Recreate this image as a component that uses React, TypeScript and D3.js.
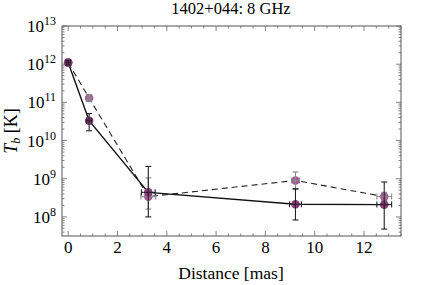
import React, { useRef, useEffect } from "react"
import * as d3 from "d3"

const W = 436
const H = 285

const title = "1402+044: 8 GHz"
const distances = [0, 0.85, 3.25, 9.22, 12.82]
const distErr = [0.08, 0.1, 0.28, 0.24, 0.3]

// solid series (black line)
const tbSolid = [1.1e12, 3.3e10, 4.4e8, 2.15e8, 2.1e8]
const tbSolidLo = [0.95e12, 1.8e10, 1.0e8, 8.3e7, 4.8e7]
const tbSolidHi = [1.25e12, 5.1e10, 2.1e9, 5.5e8, 8.2e8]

// dashed series
const tbDashed = [1.1e12, 1.3e11, 3.4e8, 9.0e8, 3.4e8]
const tbDashedLo = [1.0e12, 1.05e11, 1.6e8, 5.2e8, 2.7e8]
const tbDashedHi = [1.2e12, 1.6e11, 1.05e9, 1.5e9, 4.4e8]
const distErrDashed = [0.06, 0.08, 0.3, 0.16, 0.3]

const xTicks = [0, 2, 4, 6, 8, 10, 12]
const yDecades = [8, 9, 10, 11, 12, 13]

const App: React.FunctionComponent = () => {
	const svgRef = useRef<any>()

	useEffect(() => {
		document.body.style.margin = "0"
		const svg = d3.select(svgRef.current)
		svg.selectAll("*").remove()

		const left = 62, right = 401, top = 26, bottom = 236
		const x = d3.scaleLinear().domain([-0.25, 13.5]).range([left, right])
		const y = d3.scaleLog().domain([Math.pow(10, 7.5), 1e13]).range([bottom, top])
		const font = "'Liberation Serif', 'DejaVu Serif', serif"

		// frame
		svg.append("rect")
			.attr("x", left).attr("y", top)
			.attr("width", right - left).attr("height", bottom - top)
			.attr("fill", "none").attr("stroke", "#555").attr("stroke-width", 1)

		const tickG = svg.append("g").attr("stroke", "#666").attr("stroke-width", 0.8)
		// x ticks
		d3.range(0, 13.51, 0.5).forEach((v) => {
			const major = xTicks.includes(v)
			const len = major ? 5 : 2.5
			tickG.append("line").attr("x1", x(v)).attr("x2", x(v)).attr("y1", bottom).attr("y2", bottom - len)
			tickG.append("line").attr("x1", x(v)).attr("x2", x(v)).attr("y1", top).attr("y2", top + len)
		})
		// y ticks
		const yMinor: number[] = []
		for (let d = 7; d < 13; d++) {
			for (let k = 2; k <= 9; k++) {
				const v = k * Math.pow(10, d)
				if (v >= Math.pow(10, 7.5)) yMinor.push(v)
			}
		}
		yMinor.forEach((v) => {
			tickG.append("line").attr("x1", left).attr("x2", left + 2.5).attr("y1", y(v)).attr("y2", y(v))
			tickG.append("line").attr("x1", right).attr("x2", right - 2.5).attr("y1", y(v)).attr("y2", y(v))
		})
		yDecades.forEach((d) => {
			const v = Math.pow(10, d)
			tickG.append("line").attr("x1", left).attr("x2", left + 5).attr("y1", y(v)).attr("y2", y(v))
			tickG.append("line").attr("x1", right).attr("x2", right - 5).attr("y1", y(v)).attr("y2", y(v))
		})

		// tick labels
		xTicks.forEach((v) => {
			svg.append("text").attr("x", x(v)).attr("y", 253)
				.attr("text-anchor", "middle").attr("font-family", font).attr("font-size", 17)
				.text(String(v))
		})
		yDecades.forEach((d) => {
			const t = svg.append("text").attr("x", 56).attr("y", y(Math.pow(10, d)) + 6)
				.attr("text-anchor", "end").attr("font-family", font).attr("font-size", 17)
			t.append("tspan").text("10")
			t.append("tspan").attr("dy", -7).attr("font-size", 12).text(String(d))
		})

		// titles
		svg.append("text").attr("x", 231).attr("y", 14)
			.attr("text-anchor", "middle").attr("font-family", font).attr("font-size", 16.5)
			.text(title)
		svg.append("text").attr("x", 231).attr("y", 279)
			.attr("text-anchor", "middle").attr("font-family", font).attr("font-size", 17.5)
			.text("Distance [mas]")
		const yl = svg.append("text")
			.attr("transform", `translate(17, 131) rotate(-90)`)
			.attr("text-anchor", "middle").attr("font-family", font).attr("font-size", 18)
		yl.append("tspan").attr("font-style", "italic").text("T")
		yl.append("tspan").attr("font-style", "italic").attr("font-size", 12).attr("dy", 3).text("b")
		yl.append("tspan").attr("dy", -3).text(" [K]")

		const plot = svg.append("g")

		const errBars = (vals: number[], lo: number[], hi: number[], xe: number[], color: string) => {
			const g = plot.append("g").attr("stroke", color).attr("stroke-width", 1.1)
			distances.forEach((dv, i) => {
				const cx = x(dv), cy = y(vals[i])
				g.append("line").attr("x1", cx).attr("x2", cx).attr("y1", y(lo[i])).attr("y2", y(hi[i]))
				g.append("line").attr("x1", cx - 3).attr("x2", cx + 3).attr("y1", y(lo[i])).attr("y2", y(lo[i]))
				g.append("line").attr("x1", cx - 3).attr("x2", cx + 3).attr("y1", y(hi[i])).attr("y2", y(hi[i]))
				const x0 = x(dv - xe[i]), x1 = x(dv + xe[i])
				g.append("line").attr("x1", x0).attr("x2", x1).attr("y1", cy).attr("y2", cy)
				g.append("line").attr("x1", x0).attr("x2", x0).attr("y1", cy - 3).attr("y2", cy + 3)
				g.append("line").attr("x1", x1).attr("x2", x1).attr("y1", cy - 3).attr("y2", cy + 3)
			})
		}

		const line = d3.line<number>()
			.x((d, i) => x(distances[i]))
			.y((d) => y(d))

		plot.append("path").attr("d", line(tbDashed))
			.attr("fill", "none").attr("stroke", "#222").attr("stroke-width", 1.1)
			.attr("stroke-dasharray", "6,4")
		plot.append("path").attr("d", line(tbSolid))
			.attr("fill", "none").attr("stroke", "#111").attr("stroke-width", 1.4)

		plot.selectAll(".mdash").data(tbDashed).join("circle")
			.attr("cx", (d, i) => x(distances[i])).attr("cy", (d) => y(d))
			.attr("r", 4.3).attr("fill", "#a65a95")
		errBars(tbDashed, tbDashedLo, tbDashedHi, distErrDashed, "#8a8a8a")

		plot.selectAll(".msolid").data(tbSolid).join("circle")
			.attr("cx", (d, i) => x(distances[i])).attr("cy", (d) => y(d))
			.attr("r", 4.3).attr("fill", "#8b3a7e")
		errBars(tbSolid, tbSolidLo, tbSolidHi, distErr, "#222")
	}, [])

	return (
		<svg ref={svgRef} width={W} height={H} style={{ position: "absolute", left: 0, top: 0, background: "#fff" }}></svg>
	)
}

export default App
